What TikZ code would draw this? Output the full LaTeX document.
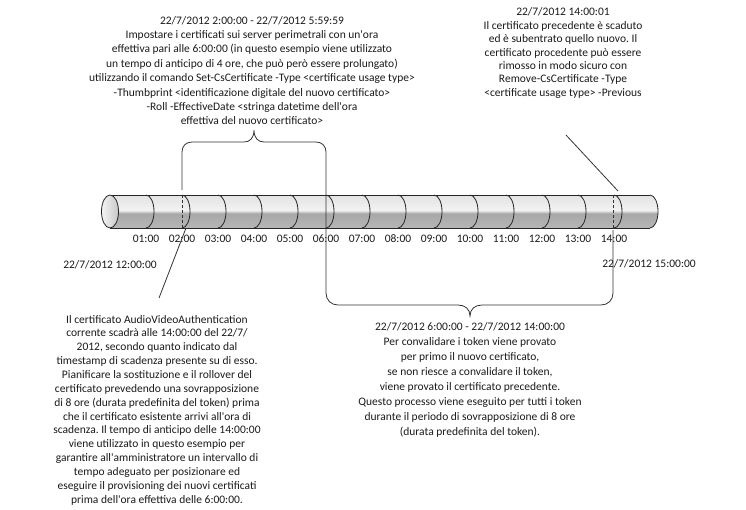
\documentclass[tikz,border=0pt]{standalone}
\usepackage{fontspec}
\setmainfont{Carlito}[Ligatures=TeXOff]
\frenchspacing
\definecolor{cylTop}{HTML}{D2D2D2}
\definecolor{cylMidHigh}{HTML}{F2F2F2}
\definecolor{cylMidLow}{HTML}{A8A8A8}
\definecolor{cylBot}{HTML}{C6C6C6}
\definecolor{linec}{HTML}{333333}
\definecolor{textc}{HTML}{1A1A1A}
\pgfdeclareverticalshading{cylshade}{100bp}{color(0bp)=(cylBot); color(47bp)=(cylMidLow); color(52bp)=(cylMidHigh); color(100bp)=(cylTop)}
\begin{document}
\begin{tikzpicture}[x=1pt,y=-1pt,
  ln/.style={draw=linec, line width=0.8pt},
  seg/.style={draw=black!85, line width=0.8pt},
  txt/.style={font=\fontsize{11.5}{14.4}\selectfont, align=center, inner sep=0pt, text=textc},
  tick/.style={font=\fontsize{11.5}{13}\selectfont, inner sep=0pt, text=textc}]
\useasboundingbox (0,0) rectangle (746,509);
% cylinder body
\shade[shading=cylshade] (110,195) -- (650,195) arc(-90:90:8 and 16.5) -- (110,228) -- cycle;
\draw[seg] (110,195) -- (650,195);
\draw[seg] (110,228) -- (650,228);
\foreach \h in {1,...,15}{
  \draw[seg] ({110+36*\h},195) arc(-90:90:8 and 16.5);
}
\shade[left color=white!96!black, right color=black!22, draw=black!85, line width=0.8pt] (110,211.5) ellipse (8.5 and 16.5);
% dashed markers
\draw[ln, dash pattern=on 3pt off 2pt] (182,195) -- (182,228);
\draw[ln, dash pattern=on 3pt off 2pt] (613,195) -- (613,228);
% tick labels
\foreach \h in {1,...,9}{
  \node[tick] (t\h) at ({110+36*\h},238.5) {0\h:00};
}
\foreach \h in {10,...,14}{
  \node[tick] (t\h) at ({110+36*\h},238.5) {\h:00};
}
% braces and marker lines
\draw[ln] (182,190) -- (182,152) .. controls (182,146) and (186,142) .. (192,142) -- (244,142)
  .. controls (250,142) and (254,138) .. (254,130) .. controls (254,138) and (258,142) .. (264,142)
  -- (316,142) .. controls (322,142) and (326,146) .. (326,152) -- (326,293)
  .. controls (326,300) and (331,305) .. (338,305) -- (458,305)
  .. controls (465,305) and (470,309) .. (470,316) .. controls (470,309) and (475,305) .. (482,305)
  -- (601,305) .. controls (608,305) and (613,300) .. (613,293) -- (613,230);
% texts
\node[txt] (topc) at (252,70.5) {22/7/2012 2:00:00 - 22/7/2012 5:59:59\\
Impostare i certificati sui server perimetrali con un'ora\\
effettiva pari alle 6:00:00 (in questo esempio viene utilizzato\\
un tempo di anticipo di 4 ore, che può però essere prolungato)\\
utilizzando il comando Set-CsCertificate -Type <certificate usage type>\\
-Thumbprint <identificazione digitale del nuovo certificato>\\
-Roll -EffectiveDate <stringa datetime dell'ora\\
effettiva del nuovo certificato>};
\node[txt, font=\fontsize{11.5}{13.4}\selectfont] (topr) at (563,53) {22/7/2012 14:00:01\\
Il certificato precedente è scaduto\\
ed è subentrato quello nuovo. Il\\
certificato procedente può essere\\
rimosso in modo sicuro con\\
Remove-CsCertificate -Type\\
<certificate usage type> -Previous};
\node[txt] (lbl12) at (110,265) {22/7/2012 12:00:00};
\node[txt] (lbl15) at (649,264) {22/7/2012 15:00:00};
\node[txt, font=\fontsize{11.5}{13.85}\selectfont] (botl) at (157,410) {Il certificato AudioVideoAuthentication\\
corrente scadrà alle 14:00:00 del 22/7/\\
2012, secondo quanto indicato dal\\
timestamp di scadenza presente su di esso.\\
Pianificare la sostituzione e il rollover del\\
certificato prevedendo una sovrapposizione\\
di 8 ore (durata predefinita del token) prima\\
che il certificato esistente arrivi all'ora di\\
scadenza. Il tempo di anticipo delle 14:00:00\\
viene utilizzato in questo esempio per\\
garantire all'amministratore un intervallo di\\
tempo adeguato per posizionare ed\\
eseguire il provisioning dei nuovi certificati\\
prima dell'ora effettiva delle 6:00:00.};
\node[txt, font=\fontsize{11.5}{15}\selectfont] (botr) at (470,379.5) {22/7/2012 6:00:00 - 22/7/2012 14:00:00\\
Per convalidare i token viene provato\\
per primo il nuovo certificato,\\
se non riesce a convalidare il token,\\
viene provato il certificato precedente.\\
Questo processo viene eseguito per tutti i token\\
durante il periodo di sovrapposizione di 8 ore\\
(durata predefinita del token).};
% pointer lines
\coordinate (p1a) at (186,228);
\coordinate (p1b) at (159,298);
\draw[ln] (p1a) -- (p1b);
\coordinate (p2a) at (566,135);
\coordinate (p2b) at (618,191);
\draw[ln] (p2a) -- (p2b);
\end{tikzpicture}
\end{document}
